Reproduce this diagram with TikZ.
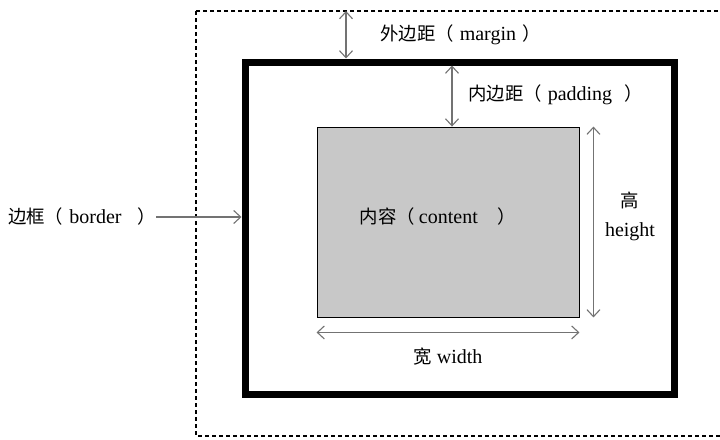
\documentclass[tikz,border=0pt]{standalone}
\usepackage{fontspec}
\setmainfont{Liberation Serif}
\newfontfamily\cjk[Scale=0.92]{Noto Sans CJK SC}
\usetikzlibrary{arrows.meta}
\definecolor{arrowgray}{RGB}{115,115,115}
\definecolor{boxgray}{RGB}{200,200,200}

\begin{document}
\begin{tikzpicture}[x=1pt,y=-1pt,
	dimarrow/.style={draw=arrowgray, line width=1.1pt,
		{Straight Barb[length=7pt,width=13pt]}-{Straight Barb[length=7pt,width=13pt]}},
	onearrow/.style={draw=arrowgray, line width=1.1pt, -{Straight Barb[length=7pt,width=13pt]}},
	lbl/.style={font=\fontsize{20}{24}\selectfont, inner sep=0pt},
	contentbox/.style={draw, line width=0.9pt, fill=boxgray, minimum width=262pt, minimum height=190pt, inner sep=0pt}]
	\clip (0,0) rectangle (720,439);
	
	% margin (dashed) and border
	\draw[line width=1.2pt, dash pattern=on 4pt off 3pt] (196,11) rectangle (760,436);
	\draw[line width=7pt] (245,62) rectangle (674,394);
	\coordinate (mtop) at (346,11);
	\coordinate (btop) at (346,58.5);
	\coordinate (ptop) at (452,65.5);
	\coordinate (bleft) at (241.5,217);
	
	% content
	\node[contentbox] (content) at (448,222) {};
	\node[lbl] (contentlbl) at (438,217) {{\cjk 内容（}\hspace{0.2em}content\hspace{1em}{\cjk ）}};
	
	% labels
	\node[lbl, anchor=west] (marginlbl) at (380,35) {{\cjk 外边距（}\hspace{0.3em}margin\hspace{0.3em}{\cjk ）}};
	\node[lbl, anchor=west] (paddinglbl) at (468,95) {{\cjk 内边距（}\hspace{0.3em}padding\hspace{0.6em}{\cjk ）}};
	\node[lbl, anchor=west] (borderlbl) at (8,217) {{\cjk 边框（}\hspace{0.3em}border\hspace{0.8em}{\cjk ）}};
	\node[lbl] (gaolbl) at (630,200) {\cjk 高};
	\node[lbl] (heightlbl) at (630,232) {height};
	\node[lbl] (widthlbl) at (448,357) {{\cjk 宽} width};
	
	% arrows
	\draw[dimarrow] (mtop) -- (btop);
	\draw[dimarrow] (ptop) -- (ptop |- content.north);
	\draw[onearrow] (borderlbl.east) -- (bleft);
	\draw[dimarrow] ([xshift=14pt]content.north east) -- ([xshift=14pt]content.south east);
	\draw[dimarrow] ([yshift=-15pt]content.south west) -- ([yshift=-15pt]content.south east);
	
\end{tikzpicture}
\end{document}
